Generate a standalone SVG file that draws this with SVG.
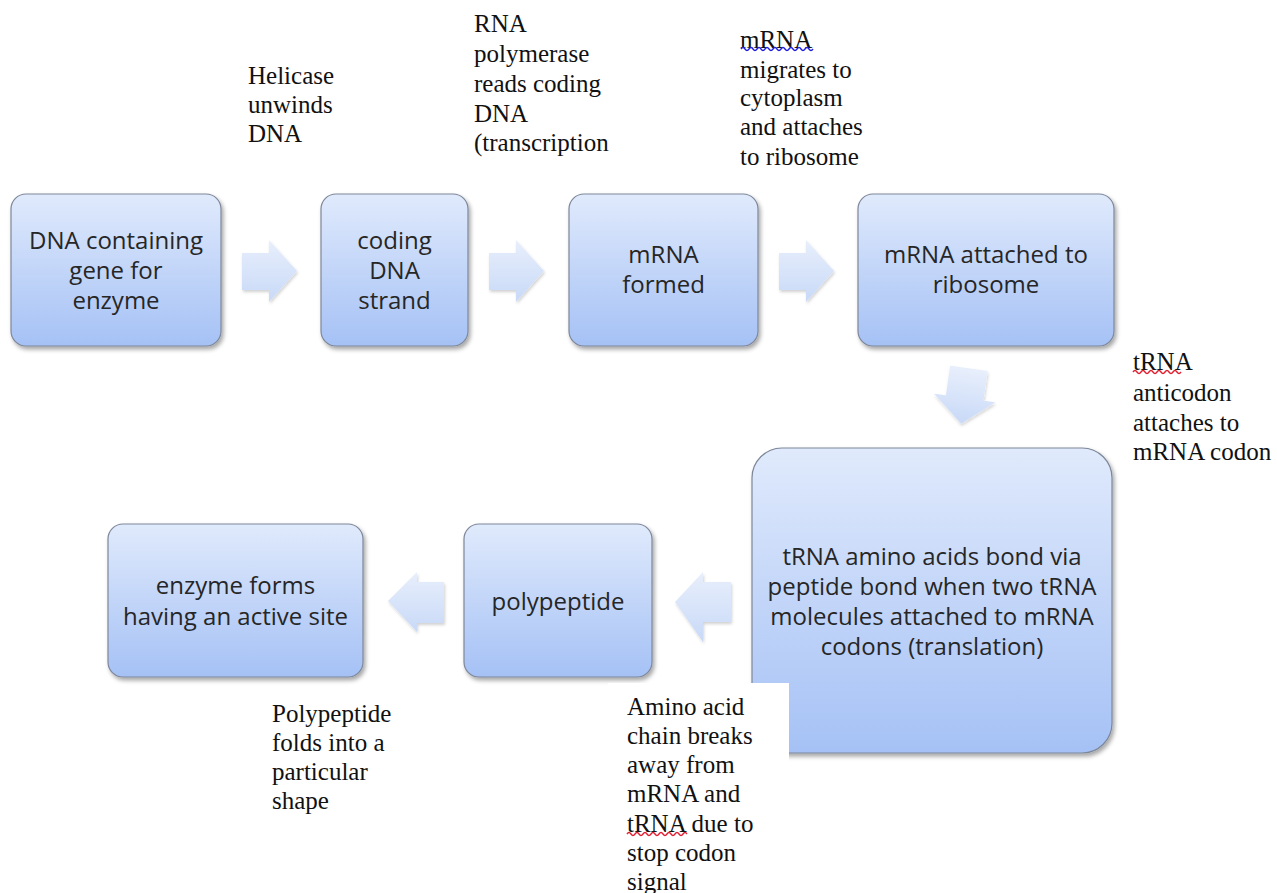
<svg xmlns="http://www.w3.org/2000/svg" width="1277" height="893" viewBox="0 0 1277 893">
<defs>
<linearGradient id="boxGrad" x1="0" y1="0" x2="0" y2="1">
<stop offset="0" stop-color="#e0eafc"/>
<stop offset="1" stop-color="#a5c1f5"/>
</linearGradient>
<linearGradient id="arrGrad" x1="0" y1="0" x2="0" y2="1">
<stop offset="0" stop-color="#e8effc"/>
<stop offset="1" stop-color="#c8d9f7"/>
</linearGradient>
<filter id="shadow" x="-10%" y="-10%" width="125%" height="125%">
<feDropShadow dx="2" dy="3" stdDeviation="2" flood-color="#000" flood-opacity="0.35"/>
</filter>
<filter id="ashadow" x="-20%" y="-20%" width="150%" height="150%">
<feDropShadow dx="1" dy="2" stdDeviation="1.5" flood-color="#000" flood-opacity="0.18"/>
</filter>
</defs>
<style>
.box{fill:url(#boxGrad);stroke:#7d8799;stroke-width:1.2;filter:url(#shadow)}
.arrow{fill:url(#arrGrad);filter:url(#ashadow)}
.bt{font-family:"Open Sans","Liberation Sans",sans-serif;font-size:24px;fill:#262626;text-anchor:middle}
.note{font-family:"Liberation Serif","Times New Roman",serif;font-size:25px;fill:#111}
.sq{fill:none;stroke-width:1.4}
</style>
<rect width="1277" height="893" fill="#ffffff"/>

<g id="connectors">
<path class="arrow" d="M242,253 H269 V240 L297,271 L269,302 V290 H242 Z"/>
<path class="arrow" d="M489,253 H516 V240 L544,271 L516,302 V290 H489 Z"/>
<path class="arrow" d="M779,253 H806 V240 L834,271 L806,302 V290 H779 Z"/>
<path class="arrow" transform="rotate(8 965 396)" d="M946,368 H984 V398 H996 L965,424 L934,398 H946 Z"/>
<path class="arrow" d="M731,582 H703 V572 L675,602 L703,642 V622 H731 Z"/>
<path class="arrow" d="M444,582 H417 V572 L388,601 L417,632 V623 H444 Z"/>
</g>

<g id="n1">
<rect class="box" x="11" y="194" width="210" height="152" rx="15"/>
<text class="bt" x="116" y="249">DNA containing</text>
<text class="bt" x="116" y="279">gene for</text>
<text class="bt" x="116" y="309">enzyme</text>
</g>
<g id="n2">
<rect class="box" x="321" y="194" width="147" height="152" rx="15"/>
<text class="bt" x="394.5" y="249">coding</text>
<text class="bt" x="394.5" y="279">DNA</text>
<text class="bt" x="394.5" y="309">strand</text>
</g>
<g id="n3">
<rect class="box" x="569" y="194" width="189" height="152" rx="15"/>
<text class="bt" x="663.5" y="263">mRNA</text>
<text class="bt" x="663.5" y="293">formed</text>
</g>
<g id="n4">
<rect class="box" x="858" y="194" width="256" height="152" rx="15"/>
<text class="bt" x="986" y="263">mRNA attached to</text>
<text class="bt" x="986" y="293">ribosome</text>
</g>
<g id="n5">
<rect class="box" x="752" y="448" width="360" height="305" rx="30"/>
<text class="bt" x="932" y="565">tRNA amino acids bond via</text>
<text class="bt" x="932" y="595">peptide bond when two tRNA</text>
<text class="bt" x="932" y="625">molecules attached to mRNA</text>
<text class="bt" x="932" y="655">codons (translation)</text>
</g>
<g id="n6">
<rect class="box" x="464" y="524" width="188" height="153" rx="15"/>
<text class="bt" x="558" y="610">polypeptide</text>
</g>
<g id="n7">
<rect class="box" x="108" y="524" width="255" height="153" rx="15"/>
<text class="bt" x="235.5" y="594">enzyme forms</text>
<text class="bt" x="235.5" y="625">having an active site</text>
</g>

<g id="notes">
<text class="note" x="248" y="84">Helicase</text>
<text class="note" x="248" y="113">unwinds</text>
<text class="note" x="248" y="142">DNA</text>

<text class="note" x="474" y="32">RNA</text>
<text class="note" x="474" y="62">polymerase</text>
<text class="note" x="474" y="92">reads coding</text>
<text class="note" x="474" y="122">DNA</text>
<text class="note" x="474" y="151">(transcription</text>

<text class="note" x="740" y="48">mRNA</text>
<text class="note" x="740" y="78">migrates to</text>
<text class="note" x="740" y="106">cytoplasm</text>
<text class="note" x="740" y="135">and attaches</text>
<text class="note" x="740" y="165">to ribosome</text>
<path class="sq" stroke="#2222dd" d="M741,49 q2,-3 4,0 t4,0 t4,0 t4,0 t4,0 t4,0 t4,0 t4,0 t4,0 t4,0 t4,0 t4,0 t4,0 t4,0 t4,0 t4,0 t4,0 t4,0"/>

<text class="note" x="1133" y="370">tRNA</text>
<text class="note" x="1133" y="401">anticodon</text>
<text class="note" x="1133" y="431">attaches to</text>
<text class="note" x="1133" y="460">mRNA codon</text>
<path class="sq" stroke="#dd2233" d="M1133,372 q2,-3 4,0 t4,0 t4,0 t4,0 t4,0 t4,0 t4,0 t4,0 t4,0 t4,0 t4,0 t4,0"/>

<text class="note" x="272" y="722">Polypeptide</text>
<text class="note" x="272" y="751">folds into a</text>
<text class="note" x="272" y="780">particular</text>
<text class="note" x="272" y="809">shape</text>

<rect x="608" y="683" width="181" height="210" fill="#ffffff"/>
<text class="note" x="627" y="715">Amino acid</text>
<text class="note" x="627" y="744">chain breaks</text>
<text class="note" x="627" y="773">away from</text>
<text class="note" x="627" y="802">mRNA and</text>
<text class="note" x="627" y="832">tRNA due to</text>
<text class="note" x="627" y="861">stop codon</text>
<text class="note" x="627" y="890">signal</text>
<path class="sq" stroke="#dd2233" d="M627,834 q2,-3 4,0 t4,0 t4,0 t4,0 t4,0 t4,0 t4,0 t4,0 t4,0 t4,0 t4,0 t4,0 t4,0 t4,0 t4,0"/>
</g>
</svg>
